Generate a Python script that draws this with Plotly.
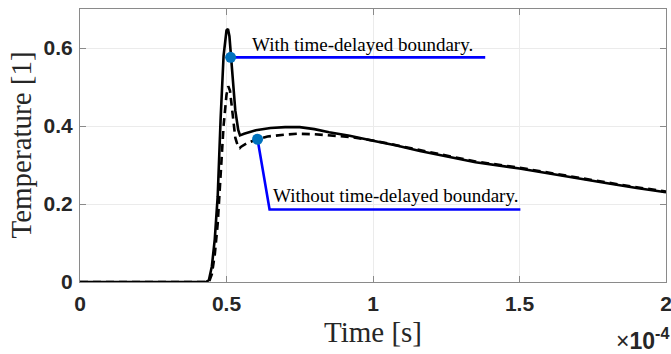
import plotly.graph_objects as go

# Time samples in units of 1e-4 s
t_with = [0.0, 0.43, 0.44, 0.45, 0.46, 0.47, 0.48, 0.49, 0.50, 0.505, 0.51, 0.515,
          0.52, 0.53, 0.54, 0.546, 0.56, 0.60, 0.65, 0.70, 0.75, 0.80, 0.85, 0.92,
          1.00, 1.08, 1.16, 1.25, 1.35, 1.50, 1.60, 1.70, 1.80, 1.90, 2.00]
T_with = [0.0, 0.0, 0.005, 0.04, 0.11, 0.22, 0.42, 0.58, 0.645, 0.649, 0.63, 0.58,
          0.52, 0.44, 0.39, 0.376, 0.380, 0.389, 0.395, 0.397, 0.397, 0.392, 0.384, 0.375,
          0.362, 0.350, 0.336, 0.322, 0.307, 0.291, 0.278, 0.266, 0.253, 0.241, 0.230]

t_without = [0.0, 0.44, 0.45, 0.46, 0.47, 0.48, 0.49, 0.50, 0.506, 0.512, 0.52, 0.53,
             0.54, 0.545, 0.55, 0.57, 0.60, 0.64, 0.70, 0.74, 0.80, 0.84, 0.92, 1.00,
             1.08, 1.16, 1.25, 1.35, 1.50, 1.60, 1.70, 1.80, 1.90, 2.00]
T_without = [0.0, 0.0, 0.02, 0.07, 0.15, 0.27, 0.40, 0.48, 0.502, 0.49, 0.43, 0.37,
             0.345, 0.343, 0.347, 0.356, 0.365, 0.373, 0.378, 0.380, 0.379, 0.377, 0.372, 0.363,
             0.351, 0.338, 0.324, 0.309, 0.293, 0.280, 0.268, 0.255, 0.243, 0.232]

# Callout leaders: marker on the curve, then elbow / end of the underline
with_leader_t = [0.514, 1.383]
with_leader_T = [0.576, 0.576]
without_leader_t = [0.606, 0.647, 1.503]
without_leader_T = [0.366, 0.186, 0.186]

label_with = "With time-delayed boundary."
label_without = "Without time-delayed boundary."

x_ticks = [0.0, 0.5, 1.0, 1.5, 2.0]
x_tick_text = ["0", "0.5", "1", "1.5", "2"]
y_ticks = [0.0, 0.2, 0.4, 0.6]
y_tick_text = ["0", "0.2", "0.4", "0.6"]

SCALE = 1e-4


def sec(v):
    return [x * SCALE for x in v]


SERIF = "Liberation Serif"
SANS = "Liberation Sans"
AX_COL = "#8a8a8a"
TXT_COL = "#262626"

fig = go.Figure()

fig.add_trace(go.Scatter(x=sec(t_with), y=T_with, mode="lines",
                         line=dict(color="black", width=2.6), showlegend=False))
fig.add_trace(go.Scatter(x=sec(t_without), y=T_without, mode="lines",
                         line=dict(color="black", width=2.6, dash="8px,5px"),
                         showlegend=False))

for lt, lT in [(with_leader_t, with_leader_T), (without_leader_t, without_leader_T)]:
    fig.add_trace(go.Scatter(x=sec(lt), y=lT, mode="lines",
                             line=dict(color="#0000ff", width=2.6), showlegend=False))
    fig.add_trace(go.Scatter(x=sec(lt[:1]), y=lT[:1], mode="markers",
                             marker=dict(color="#0072BD", size=11), showlegend=False))

fig.add_annotation(x=0.581 * SCALE, y=0.610, text=label_with, showarrow=False,
                   xanchor="left", yanchor="middle",
                   font=dict(family=SERIF, size=19, color="black"))
fig.add_annotation(x=0.653 * SCALE, y=0.223, text=label_without, showarrow=False,
                   xanchor="left", yanchor="middle",
                   font=dict(family=SERIF, size=19, color="black"))

# Axis titles and exponent label
fig.add_annotation(x=0.5, y=0, xref="paper", yref="paper", yshift=-50,
                   text="Time [s]", showarrow=False, xanchor="center", yanchor="middle",
                   font=dict(family=SERIF, size=29, color=TXT_COL))
fig.add_annotation(x=0, y=0.5, xref="paper", yref="paper", xshift=-60,
                   text="Temperature [1]", showarrow=False, textangle=-90,
                   xanchor="center", yanchor="middle",
                   font=dict(family=SERIF, size=29, color=TXT_COL))
fig.add_annotation(x=1, y=0, xref="paper", yref="paper", yshift=-57, xshift=5,
                   text="×<b>10<sup>-4</sup></b>", showarrow=False,
                   xanchor="right", yanchor="middle",
                   font=dict(family=SANS, size=23, color=TXT_COL))

axis_common = dict(showline=True, linecolor=AX_COL, linewidth=1, mirror="ticks",
                   ticks="inside", ticklen=6, tickcolor=AX_COL,
                   showgrid=True, gridcolor="#ebebeb", gridwidth=1, zeroline=False,
                   ticklabeloverflow="allow", automargin=False,
                   tickfont=dict(family=SANS, size=21, color=TXT_COL, weight="bold"))

fig.update_layout(
    width=671, height=354,
    margin=dict(l=80, r=5, t=9, b=72),
    paper_bgcolor="white", plot_bgcolor="white",
    xaxis=dict(range=[0, 2 * SCALE], tickvals=sec(x_ticks), ticktext=x_tick_text,
               ticklabelstandoff=3, **axis_common),
    yaxis=dict(range=[0, 0.7], tickvals=y_ticks, ticktext=y_tick_text,
               ticklabelstandoff=2, **axis_common),
)

fig.write_html("out.html")
